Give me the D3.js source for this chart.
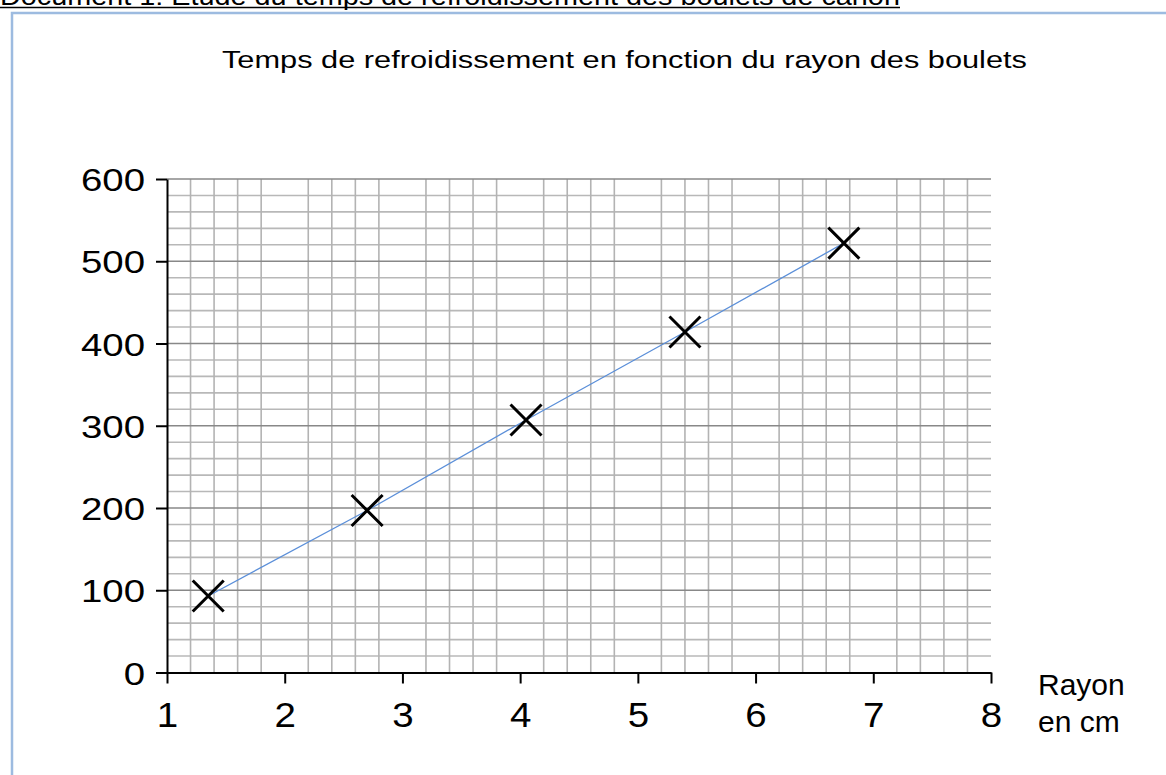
<!DOCTYPE html>
<html><head><meta charset="utf-8">
<script src="https://cdn.jsdelivr.net/npm/d3@7"></script>
<style>
html,body{margin:0;padding:0;background:#fff;overflow:hidden;}
svg{display:block;font-family:"Liberation Sans",Arial,sans-serif;}
</style></head>
<body>
<svg id="chart" width="1166" height="775"></svg>
<script>
// Data
const radius = [1.35, 2.7, 4.05, 5.4, 6.75];
const coolingTime = [93, 197, 307, 414, 522];
const xTickValues = [1, 2, 3, 4, 5, 6, 7, 8];
const yTickValues = [0, 100, 200, 300, 400, 500, 600];
const docTitle = "Document 1: Étude du temps de refroidissement des boulets de canon";
const chartTitle = "Temps de refroidissement en fonction du rayon des boulets";
const xAxisTitle = ["Rayon", "en cm"];

const svg = d3.select("#chart");
const FONT = "Liberation Sans, Arial, sans-serif";

// helper: text stretched horizontally to a target width
function fitText(sel, x0, width) {
  sel.each(function () {
    const t = d3.select(this);
    const w = this.getComputedTextLength();
    const k = width / w;
    t.attr("transform", `translate(${x0},0) scale(${k},1)`).attr("x", 0);
  });
}

// document heading (cut at top)
const doc = svg.append("text").attr("y", 5)
  .attr("font-size", 25).attr("fill", "#000").text(docTitle);
fitText(doc, 0, 900);
svg.append("line").attr("x1", 0).attr("x2", 900).attr("y1", 7.5).attr("y2", 7.5)
  .attr("stroke", "#000").attr("stroke-width", 1.5);

// frame
svg.append("path").attr("d", "M12,780 L12,13 L1170,13")
  .attr("fill", "none").attr("stroke", "#9dbbe0").attr("stroke-width", 2.5);

const x = d3.scaleLinear().domain([1, 8]).range([167, 991]);
const y = d3.scaleLinear().domain([0, 600]).range([672.5, 179]);

// grid
const g = svg.append("g");
const minorY = d3.range(0, 601, 20).filter(v => v % 100 !== 0);
g.selectAll(".hminor").data(minorY).join("line")
  .attr("x1", x(1)).attr("x2", x(8)).attr("y1", d => y(d)).attr("y2", d => y(d))
  .attr("stroke", "#b8b8b8").attr("stroke-width", 1.6);
const minorX = d3.range(6, 40).filter(i => i % 5 !== 0).map(i => i / 5);
g.selectAll(".vminor").data(minorX).join("line")
  .attr("x1", d => x(d)).attr("x2", d => x(d)).attr("y1", y(600)).attr("y2", y(0))
  .attr("stroke", "#b3b3b3").attr("stroke-width", 1.6);
g.selectAll(".hmajor").data(yTickValues.filter(v => v > 0)).join("line")
  .attr("x1", x(1)).attr("x2", x(8)).attr("y1", d => y(d)).attr("y2", d => y(d))
  .attr("stroke", "#888").attr("stroke-width", 1.6);

// axes
const yAxis = svg.append("g").attr("transform", `translate(${x(1)},0)`)
  .call(d3.axisLeft(y).tickValues(yTickValues).tickFormat(d3.format("d")).tickSize(11).tickPadding(10).tickSizeOuter(0));
const xAxis = svg.append("g").attr("transform", `translate(0,${y(0)})`)
  .call(d3.axisBottom(x).tickValues(xTickValues).tickFormat(d3.format("d")).tickSize(11).tickPadding(16).tickSizeOuter(0));
[yAxis, xAxis].forEach(a => {
  a.select(".domain").attr("stroke", "#000").attr("stroke-width", 2);
  a.selectAll(".tick line").attr("stroke", "#000").attr("stroke-width", 2);
  a.selectAll("text").attr("font-family", FONT).attr("fill", "#000");
});
yAxis.selectAll(".tick text").attr("font-size", 32).attr("x", null).attr("dy", null)
  .attr("transform", "translate(-22,11.5) scale(1.2,1)");
xAxis.selectAll(".tick text").attr("font-size", 35).attr("y", null).attr("dy", null)
  .attr("transform", "translate(0,54) scale(1.1,1)");

// line
svg.append("path").datum(radius.map((r, i) => [r, coolingTime[i]]))
  .attr("fill", "none").attr("stroke", "#5b8fd9").attr("stroke-width", 1.3)
  .attr("d", d3.line().x(d => x(d[0])).y(d => y(d[1])));

// markers
const s = 15.5;
svg.selectAll(".mk").data(radius.map((r, i) => [r, coolingTime[i]])).join("path")
  .attr("d", d => {
    const cx = x(d[0]), cy = y(d[1]);
    return `M${cx - s},${cy - s}L${cx + s},${cy + s}M${cx - s},${cy + s}L${cx + s},${cy - s}`;
  })
  .attr("stroke", "#000").attr("stroke-width", 3).attr("fill", "none");

// title
const title = svg.append("text").attr("y", 68).attr("font-size", 24)
  .attr("fill", "#000").text(chartTitle);
fitText(title, 222, 805);

// x axis title
svg.selectAll(".xt").data(xAxisTitle).join("text")
  .attr("x", 1038).attr("y", (d, i) => 695 + i * 37)
  .attr("font-size", 30).attr("fill", "#000").text(d => d);
</script>
</body></html>
